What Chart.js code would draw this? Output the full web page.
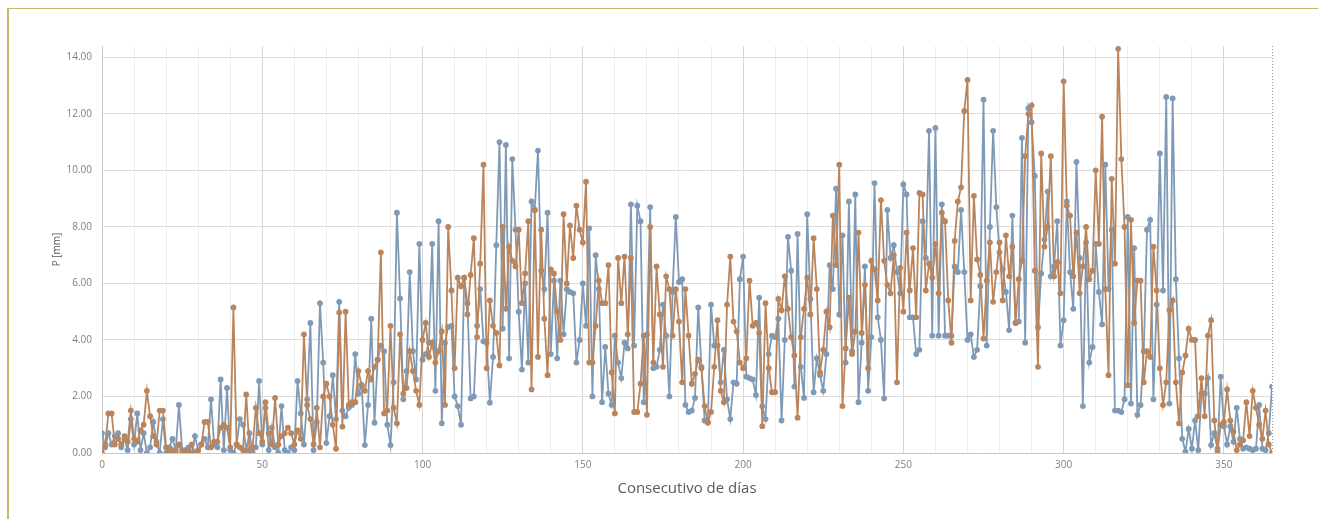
<!DOCTYPE html>
<html>
<head>
<meta charset="utf-8">
<script src="https://cdn.jsdelivr.net/npm/chart.js@4.4.1/dist/chart.umd.min.js"></script>
<style>
    html, body { margin: 0; padding: 0; background: #fff; }
    #wrap { position: relative; width: 1318px; height: 519px; overflow: hidden; }
    #frame { position: absolute; left: 7px; top: 8px; right: -2px; bottom: -2px; border-top: 1.5px solid #cbb862; border-left: 2px solid #cbb862; }
    canvas { position: absolute; left: 0; top: 0; }
</style>
</head>
<body>
<div id="wrap">
    <div id="frame"></div>
    <canvas id="myChart" width="1318" height="519"></canvas>
</div>
<script>
// day index 0..365 along the x axis
const days = Array.from({ length: 366 }, (_, i) => i);

const xTickLabels = [0, 50, 100, 150, 200, 250, 300, 350];
const yTickLabels = [0, 2, 4, 6, 8, 10, 12, 14];

// blue series (mm)
const seriesBlue = [
    0.7, 0.2, 0.7, 0.3, 0.6, 0.7, 0.2, 0.5, 0.1, 1.2,
    0.3, 1.4, 0.1, 0.7, 0.0, 0.2, 1.1, 0.4, 0.0, 1.2,
    0.0, 0.2, 0.5, 0.1, 1.7, 0.1, 0.0, 0.2, 0.0, 0.6,
    0.1, 0.3, 0.5, 0.2, 1.9, 0.3, 0.2, 2.6, 0.1, 2.3,
    0.1, 0.0, 0.3, 1.2, 1.0, 0.1, 0.7, 0.0, 0.2, 2.55,
    0.3, 1.6, 0.1, 0.9, 0.2, 0.0, 1.66, 0.1, 0.0, 0.2,
    0.1, 2.55, 1.4, 0.3, 1.9, 4.6, 0.1, 1.1, 5.3, 3.2,
    0.35, 1.3, 2.75, 1.2, 5.35, 1.5, 1.3, 1.6, 1.7, 3.5,
    2.1, 2.4, 0.28, 1.7, 4.75, 1.07, 3.3, 3.8, 3.6, 1.0,
    0.28, 2.5, 8.5, 5.47, 1.9, 2.9, 6.4, 3.6, 2.6, 7.4,
    3.3, 3.5, 3.9, 7.4, 2.2, 8.2, 1.05, 3.9, 4.46, 4.5,
    2.0, 1.66, 1.0, 6.2, 5.3, 1.93, 2.0, 4.5, 5.8, 3.95,
    3.9, 1.78, 3.4, 7.35, 11.0, 4.4, 10.9, 3.35, 10.4, 7.9,
    5.0, 2.95, 6.0, 3.2, 8.9, 8.6, 10.7, 6.45, 5.8, 8.5,
    3.5, 6.1, 3.35, 6.1, 4.2, 5.8, 5.7, 5.65, 3.2, 4.0,
    6.0, 4.5, 7.95, 2.0, 7.0, 5.8, 1.8, 3.75, 2.1, 1.7,
    4.15, 3.2, 2.65, 3.9, 3.7, 8.8, 3.8, 8.75, 8.2, 1.8,
    4.2, 8.7, 3.0, 3.05, 3.65, 5.25, 4.15, 2.0, 5.7, 8.35,
    6.05, 6.15, 1.7, 1.45, 1.5, 1.95, 5.15, 3.05, 1.15, 1.1,
    5.25, 3.8, 3.8, 2.5, 3.65, 1.9, 1.2, 2.5, 2.45, 6.15,
    6.95, 2.7, 2.65, 2.6, 2.05, 5.5, 1.65, 1.2, 3.5, 4.15,
    4.1, 4.75, 1.15, 4.0, 7.65, 6.45, 2.35, 7.75, 3.05, 1.95,
    8.45, 5.45, 2.15, 3.35, 2.75, 2.2, 3.5, 6.65, 5.8, 9.35,
    4.9, 7.7, 3.2, 8.9, 3.6, 9.15, 1.8, 3.9, 6.6, 2.2,
    4.1, 9.55, 4.8, 4.0, 1.93, 8.6, 6.9, 7.35, 6.4, 5.65,
    9.5, 9.15, 4.8, 4.8, 3.5, 3.65, 8.2, 6.9, 11.4, 4.15,
    11.5, 4.15, 8.8, 4.15, 4.15, 4.15, 6.6, 6.4, 8.6, 6.4,
    4.0, 4.2, 3.4, 3.65, 5.9, 12.5, 3.8, 8.0, 11.4, 8.7,
    7.1, 6.5, 5.7, 4.35, 8.4, 4.6, 4.65, 11.15, 3.9, 12.2,
    11.7, 9.8, 4.45, 6.35, 7.55, 9.25, 6.25, 6.6, 8.2, 3.8,
    4.7, 8.9, 6.4, 5.1, 10.3, 6.9, 1.66, 7.45, 3.2, 3.75,
    7.4, 5.7, 4.55, 10.2, 5.8, 7.9, 1.5, 1.5, 1.45, 1.9,
    8.35, 1.75, 7.25, 1.35, 1.7, 3.6, 7.9, 8.25, 1.9, 5.25,
    10.6, 5.75, 12.6, 1.75, 12.55, 6.15, 3.35, 0.5, 0.05, 0.85,
    0.15, 1.15, 0.1, 2.1, 2.1, 2.65, 0.28, 0.7, 0.15, 2.7,
    0.95, 0.3, 0.95, 0.4, 1.6, 0.5, 0.15, 0.2, 0.15, 0.1,
    0.15, 1.7, 0.15, 0.1, 0.7, 2.35
];

// orange series (mm)
const seriesOrange = [
    0.0, 0.3, 1.4, 1.4, 0.3, 0.5, 0.3, 0.6, 0.4, 1.5,
    0.5, 0.4, 0.8, 1.0, 2.2, 1.3, 0.6, 0.3, 1.5, 1.5,
    0.2, 0.0, 0.1, 0.0, 0.3, 0.0, 0.1, 0.0, 0.3, 0.0,
    0.1, 0.3, 1.1, 1.1, 0.2, 0.4, 0.4, 0.9, 1.0, 0.9,
    0.2, 5.15, 0.3, 0.2, 0.1, 2.07, 0.1, 0.2, 1.6, 0.7,
    0.4, 1.8, 0.7, 0.3, 1.95, 0.3, 0.6, 0.7, 0.9, 0.7,
    0.3, 0.8, 0.5, 4.2, 1.7, 1.2, 0.3, 1.6, 0.2, 2.0,
    2.45, 2.0, 1.0, 0.15, 4.97, 0.93, 5.0, 1.7, 1.8, 1.8,
    2.9, 2.4, 2.2, 2.9, 2.6, 3.05, 3.3, 7.1, 1.4, 1.5,
    4.5, 1.6, 1.05, 4.2, 2.1, 2.3, 3.6, 2.9, 2.2, 1.7,
    4.0, 4.6, 3.4, 3.9, 3.2, 3.6, 4.3, 1.7, 8.0, 5.75,
    3.0, 6.2, 5.9, 6.2, 4.9, 6.3, 7.6, 4.1, 6.7, 10.2,
    3.0, 5.4, 4.5, 4.25, 3.1, 8.0, 5.1, 7.3, 6.8, 6.6,
    7.9, 5.3, 6.35, 8.2, 2.25, 8.6, 3.4, 7.9, 4.75, 2.75,
    6.5, 6.35, 5.0, 4.0, 8.45, 6.0, 8.05, 6.9, 8.75, 7.9,
    7.45, 9.6, 3.2, 3.2, 4.5, 6.1, 5.3, 5.3, 6.65, 2.85,
    1.4, 6.9, 5.3, 6.95, 4.2, 6.9, 1.45, 1.45, 2.45, 4.15,
    1.35, 8.0, 3.2, 6.6, 4.9, 3.05, 6.25, 5.8, 4.15, 5.8,
    4.65, 2.5, 5.8, 4.15, 2.45, 2.8, 3.3, 3.0, 1.66, 1.07,
    1.45, 3.05, 4.7, 2.2, 1.8, 5.25, 6.95, 4.65, 4.3, 3.2,
    3.0, 3.35, 6.1, 4.5, 4.6, 4.25, 0.95, 5.3, 3.0, 2.15,
    2.15, 5.45, 5.05, 6.25, 5.1, 4.1, 3.45, 1.25, 4.1, 5.1,
    6.2, 4.9, 7.6, 5.8, 2.85, 3.65, 5.0, 4.45, 8.4, 6.65,
    10.2, 1.66, 3.7, 5.5, 3.5, 4.3, 7.8, 4.25, 5.95, 3.0,
    6.8, 6.5, 5.4, 8.95, 6.8, 5.95, 5.65, 7.0, 2.5, 6.55,
    5.0, 7.8, 5.75, 7.25, 4.8, 9.2, 9.15, 5.75, 6.7, 6.2,
    7.4, 5.65, 8.5, 8.2, 5.4, 3.9, 7.5, 8.9, 9.4, 12.1,
    13.2, 5.4, 9.1, 6.85, 6.3, 4.05, 6.1, 7.45, 5.35, 6.4,
    7.45, 5.4, 7.7, 6.25, 7.3, 4.6, 6.15, 6.8, 10.5, 12.0,
    12.3, 6.45, 3.05, 10.6, 7.3, 8.0, 10.5, 6.25, 6.75, 5.65,
    13.15, 8.75, 8.4, 6.25, 7.8, 5.65, 6.6, 8.0, 6.15, 6.45,
    10.0, 7.4, 11.9, 5.8, 2.75, 9.7, 6.7, 14.3, 10.4, 8.0,
    2.4, 8.25, 4.6, 6.1, 6.1, 2.5, 3.6, 3.4, 7.3, 5.75,
    3.0, 1.7, 2.5, 5.05, 5.4, 2.5, 1.05, 2.85, 3.45, 4.4,
    4.0, 4.0, 1.3, 2.65, 1.3, 4.15, 4.7, 1.15, 0.05, 1.0,
    1.1, 2.25, 1.15, 0.75, 0.1, 0.3, 0.45, 1.8, 0.6, 2.2,
    1.6, 1.0, 0.5, 1.5, 0.3, 0.0
];

const BLUE = '#7f9ab6';
const ORANGE = '#ba855c';
const FONT = '"Open Sans", "Liberation Sans", sans-serif';

// dotted line on the right edge of the plot
const rightEdge = {
    id: 'rightEdge',
    beforeDatasetsDraw(chart) {
        const { ctx, chartArea } = chart;
        ctx.save();
        ctx.strokeStyle = '#9a9a9a';
        ctx.lineWidth = 1;
        ctx.setLineDash([1, 2]);
        ctx.beginPath();
        ctx.moveTo(chartArea.right + 0.5, chartArea.top);
        ctx.lineTo(chartArea.right + 0.5, chartArea.bottom);
        ctx.stroke();
        ctx.restore();
    }
};

function createChart() {
    const ctx = document.getElementById('myChart').getContext('2d');

    new Chart(ctx, {
        type: 'line',
        data: {
            labels: days,
            datasets: [
                {
                    label: 'Serie 2 (mm)',
                    data: seriesOrange,
                    borderColor: ORANGE,
                    backgroundColor: ORANGE,
                    pointBackgroundColor: ORANGE,
                    borderWidth: 1.8,
                    pointRadius: 2.9,
                    pointBorderWidth: 0,
                    tension: 0
                },
                {
                    label: 'Serie 1 (mm)',
                    data: seriesBlue,
                    borderColor: BLUE,
                    backgroundColor: BLUE,
                    pointBackgroundColor: BLUE,
                    borderWidth: 1.8,
                    pointRadius: 2.9,
                    pointBorderWidth: 0,
                    tension: 0
                }
            ]
        },
        options: {
            responsive: false,
            animation: false,
            layout: {
                padding: { left: 47, right: 46, top: 46, bottom: 17 }
            },
            scales: {
                x: {
                    type: 'linear',
                    min: 0,
                    max: 365,
                    ticks: {
                        stepSize: 10,
                        autoSkip: false,
                        maxRotation: 0,
                        padding: 6,
                        color: '#7f7f7f',
                        font: { family: FONT, size: 10 },
                        callback: v => xTickLabels.includes(v) ? String(v) : ''
                    },
                    grid: {
                        drawTicks: false,
                        color: c => {
                            const v = c.tick ? c.tick.value : 0;
                            if (v === 365 || v === 0) return 'rgba(0,0,0,0)';
                            return v % 50 === 0 ? '#d6d6d6' : '#efefef';
                        }
                    },
                    border: { color: '#c8c8c8' },
                    title: {
                        display: true,
                        text: 'Consecutivo de días',
                        color: '#595959',
                        font: { family: FONT, size: 15 },
                        padding: { top: 4, bottom: 4 }
                    },
                    afterFit: s => { s.height = 49; }
                },
                y: {
                    min: 0,
                    max: 14.4,
                    ticks: {
                        padding: 10,
                        color: '#7f7f7f',
                        font: { family: FONT, size: 10 },
                        callback: v => Number(v).toFixed(2)
                    },
                    afterBuildTicks: s => {
                        s.ticks = yTickLabels.map(v => ({ value: v }));
                    },
                    grid: {
                        drawTicks: false,
                        color: c => (c.tick && c.tick.value === 0) ? 'rgba(0,0,0,0)' : '#dcdcdc'
                    },
                    border: { color: '#c8c8c8' },
                    title: {
                        display: true,
                        text: 'P [mm]',
                        color: '#595959',
                        font: { family: FONT, size: 10 },
                        padding: { top: 4, bottom: 4 }
                    },
                    afterFit: s => { s.width = 55; }
                }
            },
            plugins: {
                legend: { display: false },
                tooltip: { enabled: false }
            }
        },
        plugins: [rightEdge]
    });
}

document.addEventListener('DOMContentLoaded', createChart);
</script>
</body>
</html>
